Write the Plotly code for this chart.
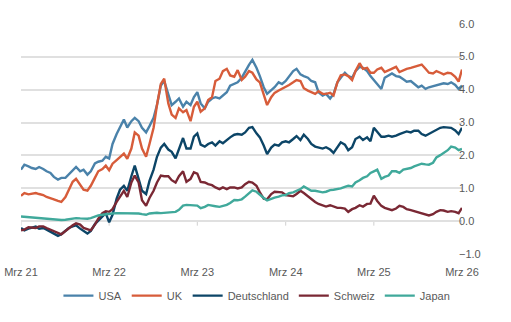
import pandas as pd
import plotly.graph_objects as go

# Semi-monthly observation dates (1st and 15th of each month)
dates = pd.date_range("2021-03-01", "2026-03-01", freq="SMS")

usa = [1.57, 1.72, 1.67, 1.62, 1.59, 1.65, 1.59, 1.52, 1.47, 1.35, 1.27, 1.32, 1.32, 1.42, 1.52, 1.65,
       1.52, 1.57, 1.42, 1.52, 1.76, 1.81, 1.84, 1.96, 1.91, 2.35, 2.65, 2.84, 3.09, 2.85,
       3.04, 3.14, 3.04, 2.84, 2.70, 2.89, 3.14, 3.53, 4.12, 4.26, 3.87, 3.53, 3.63, 3.73, 3.48,
       3.63, 3.53, 3.77, 3.92, 3.58, 3.43, 3.63, 3.73, 3.77, 3.73, 3.82, 3.92, 4.12, 4.18,
       4.22, 4.36, 4.56, 4.75, 4.90, 4.66, 4.41, 4.07, 3.87, 3.97, 4.07, 4.22, 4.17, 4.26, 4.41,
       4.56, 4.63, 4.46, 4.41, 4.36, 4.26, 4.22, 3.92, 3.82, 3.87, 3.73, 3.87, 4.22, 4.36, 4.51, 4.41,
       4.36, 4.56, 4.69, 4.66, 4.56, 4.41, 4.29, 4.17, 4.02, 4.36, 4.43, 4.49, 4.41, 4.39, 4.31,
       4.24, 4.26, 4.17, 4.07, 4.12, 4.02, 4.07, 4.10, 4.12, 4.17, 4.19, 4.17, 4.22, 4.14, 4.02, 4.12]

uk = [0.78, 0.86, 0.82, 0.84, 0.86, 0.83, 0.80, 0.74, 0.71, 0.67, 0.62, 0.59, 0.74, 0.98, 1.20, 1.29,
      1.10, 0.96, 0.93, 1.08, 1.32, 1.52, 1.59, 1.69, 1.55, 1.75, 1.86, 1.94, 2.06, 1.90,
      2.21, 2.70, 2.60, 2.21, 1.96, 2.35, 2.84, 3.53, 4.17, 4.33, 3.58, 3.24, 3.14, 3.43, 3.31,
      3.38, 3.04, 3.48, 3.63, 3.33, 3.43, 3.68, 3.77, 4.26, 4.33, 4.56, 4.63, 4.43, 4.39,
      4.59, 4.29, 4.39, 4.56, 4.51, 4.31, 4.22, 3.87, 3.53, 3.77, 3.90, 3.97, 4.02, 4.07, 4.14,
      4.22, 4.29, 4.26, 4.04, 3.97, 3.92, 3.87, 3.95, 3.87, 3.87, 3.90, 3.82, 4.22, 4.43, 4.46, 4.41,
      4.29, 4.56, 4.80, 4.63, 4.66, 4.51, 4.51, 4.61, 4.66, 4.53, 4.59, 4.63, 4.69, 4.53, 4.59,
      4.63, 4.66, 4.69, 4.73, 4.76, 4.63, 4.51, 4.49, 4.56, 4.51, 4.46, 4.51, 4.49, 4.39, 4.24, 4.61]

deutschland = [-0.20, -0.27, -0.22, -0.20, -0.16, -0.22, -0.20, -0.25, -0.31, -0.37, -0.44, -0.39,
               -0.29, -0.20, -0.15, -0.12, -0.22, -0.29, -0.37, -0.29, -0.08, 0.02, 0.15, 0.25,
               -0.03, 0.20, 0.69, 0.96, 1.08, 0.93,
               1.37, 1.69, 1.29, 0.93, 0.83, 1.23, 1.57, 1.96, 2.24, 2.35, 2.18, 2.11, 1.91, 2.21, 2.53,
               2.21, 2.21, 2.57, 2.67, 2.33, 2.27, 2.35, 2.40, 2.30, 2.43, 2.37, 2.47, 2.55, 2.63,
               2.65, 2.63, 2.70, 2.84, 2.86, 2.67, 2.55, 2.30, 2.04, 2.24, 2.33, 2.30, 2.40, 2.43, 2.40,
               2.50, 2.59, 2.47, 2.63, 2.50, 2.35, 2.27, 2.24, 2.21, 2.25, 2.18, 2.08, 2.25, 2.40, 2.33,
               2.16,
               2.25, 2.50, 2.57, 2.47, 2.55, 2.43, 2.84, 2.72, 2.57, 2.57, 2.60, 2.57, 2.60, 2.65, 2.70,
               2.73, 2.70, 2.75, 2.75, 2.65, 2.60, 2.65, 2.73, 2.76, 2.84, 2.86, 2.86, 2.84, 2.76, 2.65,
               2.84]

schweiz = [-0.27, -0.25, -0.18, -0.18, -0.20, -0.15, -0.15, -0.20, -0.25, -0.31, -0.37, -0.39,
           -0.29, -0.20, -0.12, -0.06, -0.10, -0.20, -0.25, -0.27, -0.10, 0.08, 0.25, 0.31,
           0.29, 0.37, 0.59, 0.76, 0.93, 0.74,
           1.18, 1.39, 1.18, 0.64, 0.47, 0.71, 0.93, 1.18, 1.39, 1.37, 1.37, 1.25, 1.18, 1.37, 1.52,
           1.20, 1.29, 1.49, 1.45, 1.20, 1.18, 1.13, 1.10, 1.03, 0.98, 1.03, 0.98, 1.03, 1.03,
           1.00, 1.03, 1.13, 1.20, 1.18, 1.08, 0.88, 0.69, 0.67, 0.83, 0.90, 0.88, 0.88, 0.80, 0.78,
           0.76, 0.83, 0.93, 0.86, 0.76, 0.67, 0.59, 0.53, 0.49, 0.45, 0.49, 0.45, 0.41, 0.41, 0.39,
           0.29,
           0.37, 0.41, 0.49, 0.45, 0.53, 0.54, 0.78, 0.62, 0.47, 0.41, 0.37, 0.34, 0.39, 0.47, 0.44,
           0.37, 0.34, 0.31, 0.29, 0.25, 0.22, 0.18, 0.22, 0.29, 0.34, 0.33, 0.29, 0.31, 0.29, 0.25,
           0.41]

japan = [0.15, 0.14, 0.12, 0.11, 0.10, 0.10, 0.09, 0.08, 0.07, 0.06, 0.05, 0.04, 0.05, 0.07, 0.09,
         0.10, 0.09, 0.08, 0.08, 0.10, 0.15, 0.18, 0.20, 0.22, 0.24, 0.24, 0.25, 0.25, 0.25, 0.26,
         0.26, 0.25, 0.24, 0.22, 0.20, 0.24, 0.26, 0.26, 0.25, 0.26, 0.27, 0.28, 0.29, 0.35, 0.48,
         0.50, 0.49, 0.49, 0.48, 0.40, 0.44, 0.50, 0.49, 0.46, 0.44, 0.47, 0.50, 0.56, 0.65,
         0.64, 0.67, 0.75, 0.85, 0.94, 0.90, 0.80, 0.71, 0.64, 0.69, 0.72, 0.75, 0.79, 0.80, 0.86,
         0.88, 0.93, 0.98, 1.06, 1.00, 0.93, 0.93, 0.91, 0.88, 0.90, 0.95, 0.96, 0.97, 1.00, 1.05,
         1.08,
         1.06, 1.18, 1.25, 1.32, 1.37, 1.47, 1.52, 1.57, 1.29, 1.35, 1.39, 1.52, 1.52, 1.47, 1.57,
         1.59, 1.62, 1.67, 1.71, 1.75, 1.73, 1.72, 1.78, 1.94, 2.01, 2.08, 2.16, 2.27, 2.24, 2.16,
         2.20]

series_names = ["USA", "UK", "Deutschland", "Schweiz", "Japan"]
series_values = [usa, uk, deutschland, schweiz, japan]
series_colors = ["#4a82aa", "#d75c3a", "#0c4567", "#7a2834", "#40a99b"]

tick_dates = ["2021-03-01", "2022-03-01", "2023-03-01", "2024-03-01", "2025-03-01", "2026-03-01"]
tick_labels = ["Mrz 21", "Mrz 22", "Mrz 23", "Mrz 24", "Mrz 25", "Mrz 26"]

y_ticks = [-1, 0, 1, 2, 3, 4, 5, 6]
y_range = [-1.02, 6.02]  # a hair of padding so the outermost gridlines are drawn

FONT = "Liberation Sans, Arial, sans-serif"
GREY_TEXT = "#595959"
GRID = "#e0e0e0"

fig = go.Figure()
for name, vals, col in zip(series_names, series_values, series_colors):
    fig.add_trace(go.Scatter(
        x=dates, y=vals, name=name, mode="lines",
        line=dict(color=col, width=2.4),
    ))

# Small tick marks hanging below the zero line at each year mark
for d in tick_dates:
    fig.add_shape(type="line", xref="x", yref="y", x0=d, x1=d, y0=0, y1=-0.13,
                  line=dict(color="#d0d0d0", width=1), layer="below")

fig.update_layout(
    width=511, height=322,
    margin=dict(l=21, r=49, t=23, b=62),
    paper_bgcolor="white", plot_bgcolor="white",
    font=dict(family=FONT, size=11, color=GREY_TEXT),
    showlegend=True,
    legend=dict(
        orientation="h", x=0.535, xanchor="center", y=-0.175, yanchor="middle",
        font=dict(family=FONT, size=11, color=GREY_TEXT),
        itemwidth=30, tracegroupgap=0,
    ),
    xaxis=dict(
        type="date", range=[tick_dates[0], tick_dates[-1]],
        tickvals=tick_dates, ticktext=tick_labels,
        showgrid=False, zeroline=False, showline=False, ticks="",
        automargin=False, ticklabelstandoff=9,
        tickfont=dict(size=11, color=GREY_TEXT),
    ),
    yaxis=dict(
        side="right", range=y_range, tickvals=y_ticks, tickformat=".1f",
        showgrid=True, gridcolor=GRID, gridwidth=1.6,
        zeroline=False, showline=False, ticks="",
        automargin=False, ticklabelstandoff=-4,
        tickfont=dict(size=11, color=GREY_TEXT),
    ),
)

fig.write_html("out.html")
